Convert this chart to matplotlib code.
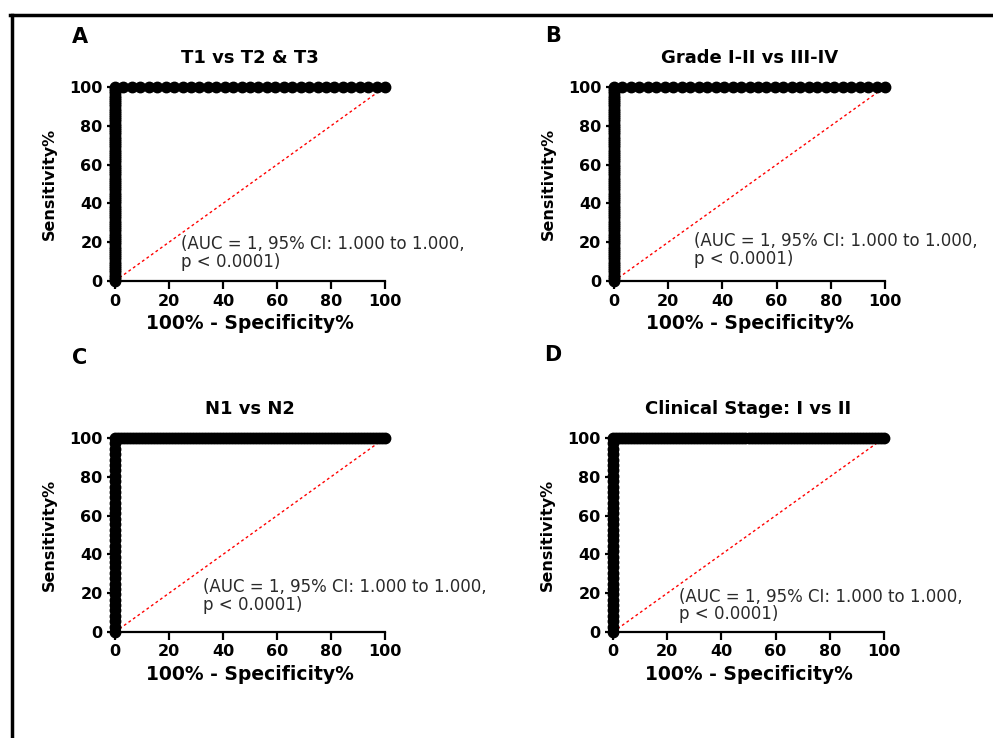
import numpy as np
import matplotlib
matplotlib.use("Agg")
import matplotlib.pyplot as plt
from matplotlib.lines import Line2D

plt.rcParams['font.family'] = ['DejaVu Sans']

# panel data: group sizes
letters = ["A", "B", "C", "D"]
titles = ["T1 vs T2 & T3", "Grade I-II vs III-IV", "N1 vs N2", "Clinical Stage: I vs II"]
n_cases = [90, 90, 36, 36]      # steps along sensitivity axis
n_controls = [32, 32, 90, 90]   # steps along 100% - specificity axis
auc_text = "(AUC = 1, 95% CI: 1.000 to 1.000,\np < 0.0001)"
text_pos = [(24.4, 14.4), (29.5, 16.0), (32.6, 18.6), (24.4, 13.7)]
ticks = [0, 20, 40, 60, 80, 100]

W, H = 993, 738
fig = plt.figure(figsize=(W / 100, H / 100), dpi=100)

# axes boxes in pixels: (left, top, right, bottom)
boxes = [(115, 87, 385, 281), (614, 87, 885, 281),
         (115, 438, 385, 632), (613, 438, 884, 632)]
letter_xy = [(80, 37), (553, 36), (80, 358), (553, 355)]

for i in range(4):
    l, t, r, b = boxes[i]
    ax = fig.add_axes([l / W, 1 - b / H, (r - l) / W, (b - t) / H])

    # ROC points for perfect separation
    sens = 100 * np.arange(n_cases[i] + 1) / n_cases[i]
    fpr = 100 * np.arange(n_controls[i] + 1) / n_controls[i]
    x = np.concatenate([np.zeros_like(sens), fpr[1:]])
    y = np.concatenate([sens, np.full(len(fpr) - 1, 100.0)])
    ax.plot(x, y, 'o', color='black', markersize=7.5, clip_on=False, zorder=5)
    ax.plot([0, 100], [0, 100], color='red', lw=1, ls=(0, (2, 2)), zorder=3)

    ax.set_xlim(0, 100)
    ax.set_ylim(0, 100)
    ax.set_xticks(ticks)
    ax.set_yticks(ticks)
    for s in ['top', 'right']:
        ax.spines[s].set_visible(False)
    for s in ['left', 'bottom']:
        ax.spines[s].set_linewidth(1.6)
    ax.tick_params(width=1.6, length=6, labelsize=11.5, pad=3)
    for lab in ax.get_xticklabels() + ax.get_yticklabels():
        lab.set_fontweight('bold')

    ax.set_title(titles[i], fontsize=13, fontweight='bold', pad=17)
    ax.set_xlabel("100% - Specificity%", fontsize=13.5, fontweight='bold', labelpad=4)
    ax.set_ylabel("Sensitivity%", fontsize=11.5, fontweight='bold', labelpad=9)
    ax.text(text_pos[i][0], text_pos[i][1], auc_text, fontsize=12, color='#2a2a2a',
            va='center', ha='left', linespacing=0.95)

    lx, ly = letter_xy[i]
    fig.text(lx / W, 1 - ly / H, letters[i], fontsize=15, fontweight='bold',
             ha='center', va='center')

# frame lines at top and left
fig.add_artist(Line2D([10 / W, 1], [1 - 15 / H, 1 - 15 / H], color='black', lw=2.5))
fig.add_artist(Line2D([12 / W, 12 / W], [0, 1 - 15 / H], color='black', lw=2.5))

fig.savefig("out.png", dpi=100)
